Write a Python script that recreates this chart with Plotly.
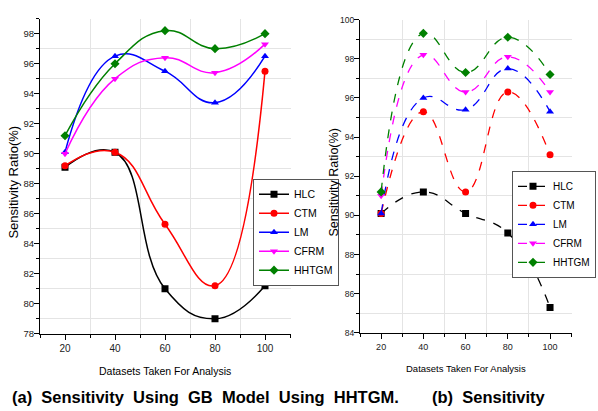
import plotly.graph_objects as go

# ---------------- data ----------------
datasets = [20, 40, 60, 80, 100]
series_names = ["HLC", "CTM", "LM", "CFRM", "HHTGM"]

# panel (a)
a_hlc = [89.1, 90.1, 81.0, 79.0, 81.2]
a_ctm = [89.2, 90.1, 85.3, 81.2, 95.5]
a_lm = [90.1, 96.5, 95.5, 93.4, 96.5]
a_cfrm = [90.0, 95.0, 96.4, 95.4, 97.3]
a_hhtgm = [91.2, 96.0, 98.2, 97.0, 98.0]

# panel (b)
b_hlc = [90.1, 91.2, 90.1, 89.1, 85.3]
b_ctm = [90.1, 95.3, 91.2, 96.3, 93.1]
b_lm = [90.1, 96.0, 95.4, 97.5, 95.3]
b_cfrm = [91.0, 98.2, 96.3, 98.1, 96.3]
b_hhtgm = [91.2, 99.3, 97.3, 99.1, 97.2]

x_ticks = [20, 40, 60, 80, 100]
x_minor = [10, 30, 50, 70, 90, 110]
a_y_ticks = [78, 80, 82, 84, 86, 88, 90, 92, 94, 96, 98]
a_y_minor = [79, 81, 83, 85, 87, 89, 91, 93, 95, 97, 99]
b_y_ticks = [84, 86, 88, 90, 92, 94, 96, 98, 100]
b_y_minor = [85, 87, 89, 91, 93, 95, 97, 99]

caption_a_words = ["(a)", "Sensitivity", "Using", "GB", "Model", "Using", "HHTGM."]
caption_b_words = ["(b)", "Sensitivity"]
x_title = "Datasets Taken For Analysis"
y_title = "Sensitivity Ratio(%)"

# ---------------- style ----------------
colors = ["#000000", "#ff0000", "#0000ff", "#ff00ff", "#008000"]
symbols = ["square", "circle", "triangle-up", "triangle-down", "diamond"]
FONT = "Liberation Sans, Arial, sans-serif"
GAP = " \u00a0"

fig = go.Figure()

a_data = [a_hlc, a_ctm, a_lm, a_cfrm, a_hhtgm]
b_data = [b_hlc, b_ctm, b_lm, b_cfrm, b_hhtgm]

for name, ys, c, s in zip(series_names, a_data, colors, symbols):
    fig.add_trace(go.Scatter(
        x=datasets, y=ys, name=name, mode="lines+markers",
        line=dict(color=c, width=1.5, shape="spline", smoothing=1.3),
        marker=dict(color=c, symbol=s, size=7),
        xaxis="x", yaxis="y", legend="legend"))

for name, ys, c, s in zip(series_names, b_data, colors, symbols):
    fig.add_trace(go.Scatter(
        x=datasets, y=ys, name=name, mode="lines+markers",
        line=dict(color=c, width=1.3, shape="spline", smoothing=1.3, dash="dash"),
        marker=dict(color=c, symbol=s, size=7),
        xaxis="x2", yaxis="y2", legend="legend2"))

W, H = 598, 411


def axis_common(tickvals, minorvals, rng, size):
    return dict(
        range=rng, tickmode="array", tickvals=tickvals,
        showgrid=False, zeroline=False, showline=True, linecolor="#000000",
        linewidth=1, ticks="outside", ticklen=5, tickcolor="#000000",
        tickfont=dict(family=FONT, size=size, color="#222222"),
        minor=dict(tickmode="array", tickvals=minorvals, ticks="outside",
                   ticklen=3, tickcolor="#000000", showgrid=True,
                   gridcolor="#e4e4e4", gridwidth=1),
    )


xa = axis_common(x_ticks, x_minor, [10, 110.4], 10)
xa.update(domain=[40 / W, 291 / W], anchor="y")
ya = axis_common(a_y_ticks, a_y_minor, [78, 99], 9.5)
ya.update(domain=[1 - 337 / H, 1 - 14 / H], anchor="x", ticklabelstandoff=-2)
xb = axis_common(x_ticks, x_minor, [10, 110.4], 9)
xb.update(domain=[360 / W, 572 / W], anchor="y2")
yb = axis_common(b_y_ticks, b_y_minor, [84, 100], 8.5)
yb.update(domain=[1 - 336 / H, 1 - 15 / H], anchor="x2", ticklabelstandoff=-2)


def note(text, x, y, size, angle=0, xanchor="center", bold=False):
    return dict(text=("<b>" + text + "</b>") if bold else text,
                x=x / W, y=1 - y / H, xref="paper", yref="paper",
                xanchor=xanchor, yanchor="middle", textangle=angle,
                showarrow=False, font=dict(family=FONT, size=size, color="#000000"))


annotations = [
    note(y_title, 14, 182, 13, angle=-90),
    note(y_title, 334, 182, 12.5, angle=-90),
    note(x_title, 165, 375, 10.5),
    note(x_title, 466, 373, 9.5),
    note(GAP.join(caption_a_words), 10, 402, 16.5, xanchor="left", bold=True),
    note(GAP.join(caption_b_words), 430, 402, 16.5, xanchor="left", bold=True),
]

fig.update_layout(
    width=W, height=H, margin=dict(l=0, r=0, t=0, b=0),
    paper_bgcolor="white", plot_bgcolor="white",
    xaxis=xa, yaxis=ya, xaxis2=xb, yaxis2=yb,
    showlegend=True,
    legend=dict(x=253 / W, y=1 - 178 / H, xanchor="left", yanchor="top",
                bgcolor="white", bordercolor="#555555", borderwidth=1,
                font=dict(family=FONT, size=10.5, color="#000000"),
                tracegroupgap=0, itemwidth=30),
    legend2=dict(x=512 / W, y=1 - 170 / H, xanchor="left", yanchor="top",
                 bgcolor="white", bordercolor="#555555", borderwidth=1,
                 font=dict(family=FONT, size=10, color="#000000"),
                 tracegroupgap=0, itemwidth=30),
    annotations=annotations,
)

fig.write_html("out.html")
